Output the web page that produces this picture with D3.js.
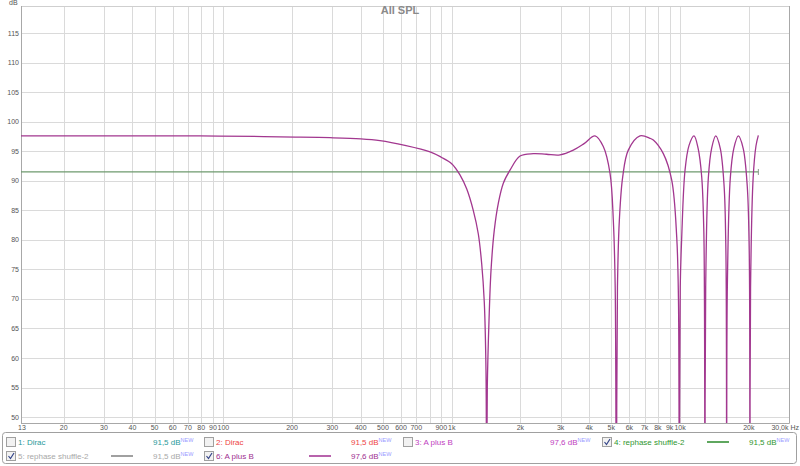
<!DOCTYPE html>
<html><head><meta charset="utf-8">
<script src="https://cdn.jsdelivr.net/npm/d3@7"></script>
<style>
html,body{margin:0;padding:0;background:#fff;}
svg{display:block;font-family:"Liberation Sans",Arial,sans-serif;}
</style></head>
<body><svg id="c" width="800" height="466"></svg>
<script>
// ---- data ----
const title = "All SPL";
const yTicks = [50,55,60,65,70,75,80,85,90,95,100,105,110,115];
const xTickValues = [13,20,30,40,50,60,70,80,90,100,200,300,400,500,600,700,900,1000,2000,3000,4000,5000,6000,7000,8000,9000,10000,20000];
const xTickLabels = ["13","20","30","40","50","60","70","80","90","100","200","300","400","500","600","700","900","1k","2k","3k","4k","5k","6k","7k","8k","9k","10k","20k"];
const gridFreqs = [20,30,40,50,60,70,80,90,100,200,300,400,500,600,700,800,900,1000,2000,3000,4000,5000,6000,7000,8000,9000,10000,20000];
const lastTickLabel = "30,0k Hz";

// series 6: A plus B (frequency Hz, level dB)
const abFreq = [13,40,79,150,217,293,400,485,624,804,900,1000,1087,1164,1243,1308,1353,1389,1413,1422,1432,1457,1487,1537,1600,1683,1800,1992,2278,2600,2981,3409,3800,4242,4612,4936,5103,5200,5260,5320,5422,5611,5935,6678,7388,7638,8448,9195,9670,9840,9927,10020,10170,10515,10950,11514,12000,12440,12700,12790,12863,12950,13300,13750,14330,15000,15600,15850,15940,16012,16110,16600,17200,18001,18900,19700,20050,20170,20256,20360,20900,21500,22023];
const abDb   = [97.6,97.6,97.6,97.5,97.4,97.3,97.1,96.8,96.0,94.9,94.0,92.9,91.0,88.6,85.0,81.0,76.0,69.5,58.0,30,55.1,66.4,74.9,81.7,86.2,89.6,91.8,94.2,94.6,94.5,94.4,95.2,96.3,97.6,95.8,91.25,83.3,72,30,72,83.3,90.7,95.2,97.6,97.2,96.9,94.6,90.1,80.5,70,30,72,80.5,91.8,96.0,97.6,95.5,90.7,82,70,30,72,90.5,95.5,97.6,95.5,89,80,70,30,72,90.5,95.5,97.6,95.5,89,80,70,30,72,90.5,95.9,97.7];

// series 4: rephase shuffle-2 (flat level)
const rsLevel = 91.5;
const rsStart = 13, rsEnd = 22023;

// legend
const legRow     = [0,0,0,0,1,1];
const legCol     = [0,1,2,3,0,1];
const legNames   = ["1: Dirac","2: Dirac","3: A plus B","4: rephase shuffle-2","5: rephase shuffle-2","6: A plus B"];
const legValues  = ["91,5 dB","91,5 dB","97,6 dB","91,5 dB","91,5 dB","97,6 dB"];
const legColors  = ["#2a9a9a","#ee4444","#c03ec0","#2f962f","#a8a8a8","#a02f90"];
const legChecked = [false,false,false,true,true,true];
const legLine    = [false,false,false,true,true,true];
const legLineColors = [null,null,null,"#2a8a2a","#808080","#a02f90"];

// ---- layout ----
const svg = d3.select("#c");
const L = 21, R = 789, T = 6, B = 423;
const x = d3.scaleLog().domain([13,30000]).range([L,R]);
const y = d3.scaleLinear().domain([49,119.6]).range([B,T]);

svg.append("defs").append("clipPath").attr("id","pc")
  .append("rect").attr("x",L).attr("y",T).attr("width",R-L).attr("height",B-T);

// grid
const g = svg.append("g");
g.selectAll("line.v").data(gridFreqs).join("line")
  .attr("x1",d=>Math.round(x(d))+0.5).attr("x2",d=>Math.round(x(d))+0.5)
  .attr("y1",T).attr("y2",B).attr("stroke","#dadada").attr("stroke-width",1);
g.selectAll("line.h").data(yTicks).join("line")
  .attr("x1",L).attr("x2",R)
  .attr("y1",d=>Math.round(y(d))+0.5).attr("y2",d=>Math.round(y(d))+0.5)
  .attr("stroke","#dadada").attr("stroke-width",1);

// frame
svg.append("line").attr("x1",L+0.5).attr("x2",R+0.5).attr("y1",T+0.5).attr("y2",T+0.5).attr("stroke","#cfcfcf");
svg.append("line").attr("x1",R+0.5).attr("x2",R+0.5).attr("y1",T).attr("y2",B+0.5).attr("stroke","#a8a8a8");
svg.append("line").attr("x1",L+0.5).attr("x2",L+0.5).attr("y1",T).attr("y2",B+0.5).attr("stroke","#a8a8a8");
svg.append("line").attr("x1",L).attr("x2",R+0.5).attr("y1",B+0.5).attr("y2",B+0.5).attr("stroke","#a8a8a8");

// axes labels
const lab = svg.append("g").attr("font-size","7px").attr("fill","#555");
lab.selectAll("text.y").data(yTicks).join("text")
  .attr("x",19).attr("y",d=>y(d)+2.5).attr("text-anchor","end").text(d=>d);
lab.append("text").attr("x",9).attr("y",4.5).text("dB");
lab.selectAll("text.x").data(xTickValues).join("text")
  .attr("x",(d,i)=>x(d)+(i===0?1:0)).attr("y",430).attr("text-anchor","middle")
  .text((d,i)=>xTickLabels[i]);
lab.append("text").attr("x",799).attr("y",430).attr("text-anchor","end").text(lastTickLabel);

// title
svg.append("text").attr("x",400).attr("y",14).attr("text-anchor","middle")
  .attr("font-size","11px").attr("font-weight","bold").attr("fill","#8a8a8a").text(title);

// series
const plot = svg.append("g").attr("clip-path","url(#pc)");
plot.append("line").attr("x1",x(rsStart)).attr("x2",x(rsEnd))
  .attr("y1",y(rsLevel)).attr("y2",y(rsLevel))
  .attr("stroke","#6e9a6e").attr("stroke-width",1.2);
plot.append("line").attr("x1",x(rsEnd)).attr("x2",x(rsEnd))
  .attr("y1",y(rsLevel)-3).attr("y2",y(rsLevel)+3)
  .attr("stroke","#8a9a8a").attr("stroke-width",1);

const pts = abFreq.map((f,i)=>[x(f),y(abDb[i])]);
plot.append("path").attr("d",d3.line().curve(d3.curveCatmullRom.alpha(0.5))(pts))
  .attr("fill","none").attr("stroke","#a2378f").attr("stroke-width",1.3);

// legend
svg.append("rect").attr("x",2.5).attr("y",432.5).attr("width",794).attr("height",31)
  .attr("rx",3).attr("fill","#fff").attr("stroke","#a0a0a0");
const colX = [6,204,403,602];
const rowY = [437,451];
const lg = svg.append("g").attr("font-size","8px");
legNames.forEach((n,i)=>{
  const cx = colX[legCol[i]], cy = rowY[legRow[i]];
  lg.append("rect").attr("x",cx+0.5).attr("y",cy+0.5).attr("width",9).attr("height",9)
    .attr("fill","#f2f2f2").attr("stroke","#a0a0a0");
  if (legChecked[i]) {
    lg.append("path").attr("d",`M${cx+2.5},${cy+5} L${cx+4.5},${cy+7.5} L${cx+8},${cy+2}`)
      .attr("fill","none").attr("stroke","#334488").attr("stroke-width",1.2);
  }
  lg.append("text").attr("x",cx+12).attr("y",cy+8).attr("fill",legColors[i]).text(n);
  if (legLine[i]) {
    lg.append("line").attr("x1",cx+105).attr("x2",cx+127).attr("y1",cy+5).attr("y2",cy+5)
      .attr("stroke",legLineColors[i]).attr("stroke-width",1.5);
  }
  const t = lg.append("text").attr("x",cx+147).attr("y",cy+8).attr("fill",legColors[i]);
  t.append("tspan").text(legValues[i]);
  t.append("tspan").attr("dy",-3).attr("font-size","5.5px").attr("fill","#9a9aff").text("NEW");
});
</script></body></html>
